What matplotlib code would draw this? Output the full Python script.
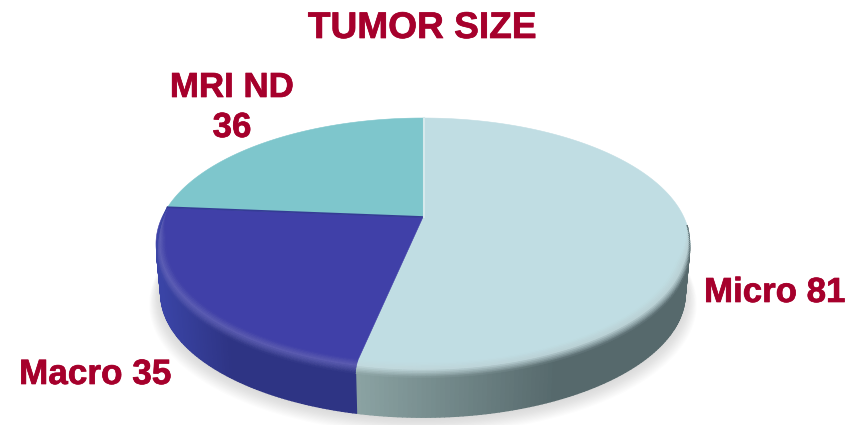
import numpy as np
import matplotlib
matplotlib.use("Agg")
import matplotlib.pyplot as plt
import matplotlib.patheffects as pe
from matplotlib.collections import PolyCollection
from matplotlib.colors import to_rgb

# data
categories = ["Micro", "Macro", "MRI ND"]
values = [81, 35, 36]
top_colors = ["#c0dde3", "#4040a8", "#7ec6cc"]
side_left = ["#8ba3a3", "#3a44a6", "#3a44a6"]
side_right = ["#56696c", "#2e3484", "#2e3484"]
labels = ["Micro 81", "Macro 35", "MRI ND\n36"]
title = "TUMOR SIZE"
text_color = "#a6002c"

# pie geometry in pixels
cx, cy = 423, 217
a, b, k = 260.8, 120.2, 0.2143
depth = 50


def project(theta, r=1.0, h=0.0):
    # theta clockwise from 12 o'clock, simple perspective of a disc
    u = r * np.sin(theta)
    v = r * np.cos(theta)
    s = 1 - 0.018 * h
    d = 1 + k * v
    return cx + a * u * s / d, cy - b * v * s / d + depth * h


def mix(c1, c2, t):
    c1, c2 = np.array(to_rgb(c1)), np.array(to_rgb(c2))
    return c1 + (c2 - c1) * t


fig = plt.figure(figsize=(8.56, 4.25), dpi=100)
ax = fig.add_axes([0, 0, 1, 1])
ax.set_xlim(0, 856)
ax.set_ylim(425, 0)
ax.axis("off")

# slice angles
fracs = np.array(values) / sum(values)
edges = np.concatenate([[0], np.cumsum(fracs)]) * 2 * np.pi

# soft shadow under the disc
circle = np.linspace(0, 2 * np.pi, 300)
for i in range(14, 0, -1):
    x, y = project(circle, 1 + 0.003 * i, 1.0)
    ax.fill(x, y + i * 0.6, color="#666666", alpha=0.014, lw=0, zorder=1)

# top faces
for i in range(len(values)):
    th = np.linspace(edges[i], edges[i + 1], 200)
    x, y = project(th)
    ax.fill(np.r_[cx, x], np.r_[cy, y], color=top_colors[i], lw=0.4, zorder=3)

# side wall and rounded edge, only where the wall can be seen
vis_start = np.radians(94)
vis_end = edges[2]
for i in range(len(values)):
    lo, hi = max(edges[i], vis_start), min(edges[i + 1], vis_end)
    if hi <= lo:
        continue
    th = np.linspace(lo, hi, 120)
    side_polys, side_cols = [], []
    bevel_polys, bevel_cols = [], []
    for j in range(len(th) - 1):
        t0, t1 = th[j], th[j + 1]
        if i == 0:
            pos = 1 - min(max((project(t0)[0] - 358) / 200, 0), 1)
            col = mix(side_right[i], side_left[i], pos)
        else:
            pos = min(max((project(t0)[0] - 160) / 70, 0), 1)
            col = mix(side_left[i], side_right[i], pos)
        # bevel tapers away at the two back ends
        w0 = min((t0 - vis_start) / 0.3, (vis_end - t0) / 0.25, 1)
        w1 = min((t1 - vis_start) / 0.3, (vis_end - t1) / 0.25, 1)
        x0, y0 = project(t0, 1, 0.16 * w0)
        x1, y1 = project(t1, 1, 0.16 * w1)
        x2, y2 = project(t1, 1, 1)
        x3, y3 = project(t0, 1, 1)
        side_polys.append([(x0, y0), (x1, y1), (x2, y2), (x3, y3)])
        side_cols.append(col)
        # rounded edge from the top colour to the wall colour
        n = 10
        for m in range(n):
            p0, p1 = m / n * np.pi / 2, (m + 1) / n * np.pi / 2
            f = (m + 0.5) / n
            high = mix(top_colors[i], "#ffffff", 0.18) * 0.85 + col * 0.15
            if f < 0.45:
                c = mix(top_colors[i], high, f / 0.45)
            else:
                c = mix(high, col, (f - 0.45) / 0.55)
            ra0, ha0 = 1 - 0.035 * w0 * (1 - np.sin(p0)), 0.16 * w0 * (1 - np.cos(p0))
            ra1, ha1 = 1 - 0.035 * w0 * (1 - np.sin(p1)), 0.16 * w0 * (1 - np.cos(p1))
            rb0, hb0 = 1 - 0.035 * w1 * (1 - np.sin(p0)), 0.16 * w1 * (1 - np.cos(p0))
            rb1, hb1 = 1 - 0.035 * w1 * (1 - np.sin(p1)), 0.16 * w1 * (1 - np.cos(p1))
            bevel_polys.append([project(t0, ra0, ha0), project(t1, rb0, hb0),
                                project(t1, rb1, hb1), project(t0, ra1, ha1)])
            bevel_cols.append(c)
    ax.add_collection(PolyCollection(side_polys, facecolors=side_cols, edgecolors=side_cols, lw=1.0, zorder=2))
    ax.add_collection(PolyCollection(bevel_polys, facecolors=bevel_cols, edgecolors=bevel_cols, lw=0.5, zorder=4))

# seams between slices
x, y = project(edges[2])
ax.plot([cx, x], [cy, y], color="#343c94", lw=1.2, zorder=5)
x, y = project(edges[0])
ax.plot([cx + 1, x + 1], [cy, y], color="#d6e9ec", lw=1.5, zorder=5)

# text
font = dict(family="Liberation Sans", weight="bold", color=text_color,
            path_effects=[pe.withStroke(linewidth=0.5, foreground=text_color)])
ax.text(422.5, 38, title, ha="center", va="baseline", fontsize=26.7, **font)
ax.text(704, 302, labels[0], ha="left", va="baseline", fontsize=25.1, **font)
ax.text(19, 384, labels[1], ha="left", va="baseline", fontsize=25.3, **font)
ax.text(232, 97, labels[2].split("\n")[0], ha="center", va="baseline", fontsize=25.1, **font)
ax.text(232, 137, labels[2].split("\n")[1], ha="center", va="baseline", fontsize=25.1, **font)

plt.savefig("out.png", dpi=100)
